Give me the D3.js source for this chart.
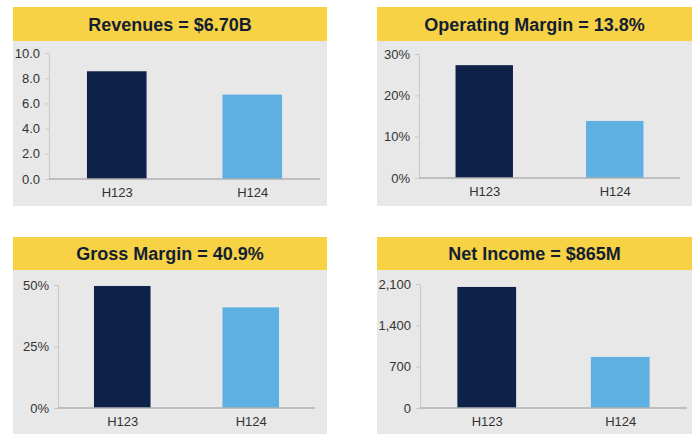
<!DOCTYPE html>
<html>
<head>
<meta charset="utf-8">
<script src="https://cdn.jsdelivr.net/npm/d3@7/dist/d3.min.js"></script>
<style>
  html, body { margin: 0; padding: 0; background: #ffffff; }
  svg { display: block; font-family: "Liberation Sans", Arial, sans-serif; }
</style>
</head>
<body>
<svg id="chart" width="700" height="443"></svg>
<script>
// ---- Data ----
const categories = ["H123", "H124"];
const titles = ["Revenues = $6.70B", "Operating Margin = 13.8%", "Gross Margin = 40.9%", "Net Income = $865M"];
const revenues = [8.55, 6.70];
const operatingMargin = [27.3, 13.8];
const grossMargin = [49.6, 40.9];
const netIncome = [2050, 865];
const revenueTicks = [0, 2, 4, 6, 8, 10];
const operatingTicks = [0, 10, 20, 30];
const grossTicks = [0, 25, 50];
const netTicks = [0, 700, 1400, 2100];

// ---- Layout ----
const colors = { header: "#F6D244", panel: "#E8E8E8", dark: "#0E2148", light: "#5EB0E2", title: "#141E33", tick: "#333333", axis: "#B0B0B0" };

const panels = [
  { title: titles[0], values: revenues, ticks: revenueTicks, max: 10, fmt: d => d3.format(".1f")(d),
    box: { x0: 13, x1: 327, hy0: 7, hy1: 41, y1: 206 }, plot: { x0: 49, x1: 320, top: 53, bottom: 179 } },
  { title: titles[1], values: operatingMargin, ticks: operatingTicks, max: 30, fmt: d => d + "%",
    box: { x0: 377, x1: 692, hy0: 7, hy1: 41, y1: 206 }, plot: { x0: 419, x1: 680, top: 54, bottom: 178 } },
  { title: titles[2], values: grossMargin, ticks: grossTicks, max: 50, fmt: d => d + "%",
    box: { x0: 13, x1: 327, hy0: 237, hy1: 270, y1: 434 }, plot: { x0: 58, x1: 315, top: 285, bottom: 408 } },
  { title: titles[3], values: netIncome, ticks: netTicks, max: 2100, fmt: d => d3.format(",")(d),
    box: { x0: 377, x1: 692, hy0: 237, hy1: 270, y1: 434 }, plot: { x0: 420, x1: 687, top: 284, bottom: 408 } }
];

const svg = d3.select("#chart");

panels.forEach(p => {
  const g = svg.append("g");
  const b = p.box, pl = p.plot;

  // gray panel
  g.append("rect").attr("x", b.x0).attr("y", b.hy1).attr("width", b.x1 - b.x0).attr("height", b.y1 - b.hy1)
    .attr("fill", colors.panel);
  // header
  g.append("rect").attr("x", b.x0).attr("y", b.hy0).attr("width", b.x1 - b.x0).attr("height", b.hy1 - b.hy0)
    .attr("fill", colors.header);
  g.append("text").attr("x", (b.x0 + b.x1) / 2).attr("y", (b.hy0 + b.hy1) / 2 + 6.5)
    .attr("text-anchor", "middle").attr("font-size", 18).attr("font-weight", "bold")
    .attr("fill", colors.title).text(p.title);

  const x = d3.scalePoint().domain(categories).range([pl.x0, pl.x1]).padding(0.5);
  const y = d3.scaleLinear().domain([0, p.max]).range([pl.bottom, pl.top]);
  const bw = x.step() * 0.44;

  // bars
  g.selectAll("rect.bar").data(p.values).join("rect").attr("class", "bar")
    .attr("x", (d, i) => x(categories[i]) - bw / 2)
    .attr("y", d => y(d))
    .attr("width", bw)
    .attr("height", d => y(0) - y(d))
    .attr("fill", (d, i) => i === 0 ? colors.dark : colors.light);

  // y axis
  const yAxis = d3.axisLeft(y).tickValues(p.ticks).tickFormat(p.fmt).tickSize(4).tickPadding(5).tickSizeOuter(0);
  const ya = g.append("g").attr("transform", `translate(${pl.x0},0)`).call(yAxis);
  ya.select(".domain").attr("stroke", "#C8C8C8").attr("stroke-width", 1);
  ya.selectAll(".tick line").attr("stroke", "#C8C8C8");
  ya.selectAll(".tick text").attr("font-size", 13).attr("fill", colors.tick)
    .attr("font-family", "\"Liberation Sans\", Arial, sans-serif");

  // x axis
  const xAxis = d3.axisBottom(x).tickSize(0).tickPadding(9);
  const xa = g.append("g").attr("transform", `translate(0,${pl.bottom})`).call(xAxis);
  xa.select(".domain").attr("stroke", colors.axis).attr("stroke-width", 1.5)
    .attr("d", `M${pl.x0},0H${pl.x1}`);
  xa.selectAll(".tick text").attr("font-size", 13).attr("fill", colors.tick)
    .attr("font-family", "\"Liberation Sans\", Arial, sans-serif");
});
</script>
</body>
</html>
